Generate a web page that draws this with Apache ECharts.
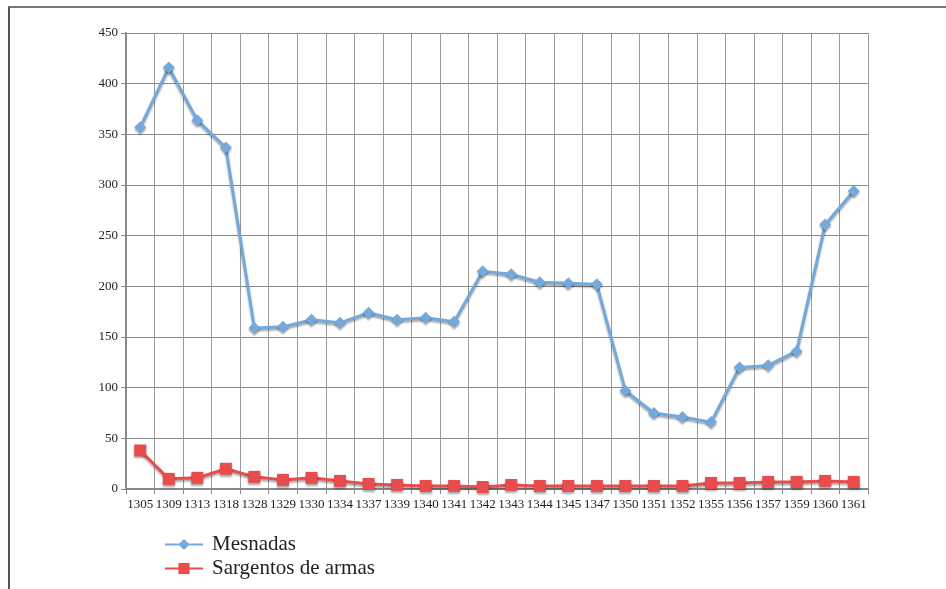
<!DOCTYPE html>
<html>
<head>
<meta charset="utf-8">
<script src="https://cdn.jsdelivr.net/npm/echarts@6/dist/echarts.min.js"></script>
<style>
  html, body { margin: 0; padding: 0; background: #fff; }
  #frame { position: absolute; left: 8px; top: 6px; width: 938px; height: 583px;
           border-left: 2px solid #555; border-top: 2px solid #777; box-sizing: border-box; }
  #chart { position: absolute; left: 0; top: 0; width: 946px; height: 589px; }
</style>
</head>
<body>
<div id="frame"></div>
<div id="chart"></div>
<script>
const years = ['1305', '1309', '1313', '1318', '1328', '1329', '1330', '1334', '1337', '1339',
  '1340', '1341', '1342', '1343', '1344', '1345', '1347', '1350', '1351', '1352',
  '1355', '1356', '1357', '1359', '1360', '1361'];
const mesnadas = [357, 416, 364, 337, 159, 160, 167, 164, 174, 167,
  169, 165, 215, 212, 204, 203, 202, 97, 75, 71,
  66, 120, 122, 136, 261, 294];
const sargentos = [38, 10, 11, 20, 12, 9, 11, 8, 5, 4,
  3, 3, 2, 4, 3, 3, 3, 3, 3, 3,
  6, 6, 7, 7, 8, 7];
const yTicks = [0, 50, 100, 150, 200, 250, 300, 350, 400, 450];

const serif = 'Liberation Serif';
const chart = echarts.init(document.getElementById('chart'));

function lineSeries(name, data, color, symbol, size) {
  return {
    name: name,
    type: 'line',
    data: data,
    symbol: symbol,
    symbolSize: size,
    showSymbol: true,
    itemStyle: { color: color, shadowColor: 'rgba(0,0,0,0.35)', shadowOffsetY: 2, shadowBlur: 2 },
    lineStyle: { color: color, width: 3, shadowColor: 'rgba(0,0,0,0.35)', shadowOffsetY: 2, shadowBlur: 2 },
    emphasis: { disabled: true },
    animation: false
  };
}

// one legend per row, so both rows sit exactly where the reference puts them
function legendRow(name, top) {
  return {
    left: 164,
    top: top,
    padding: 0,
    itemWidth: 38,
    itemHeight: 14,
    textStyle: { fontFamily: serif, fontSize: 21, color: '#222', padding: [0, 0, 0, 4] },
    data: [name]
  };
}

chart.setOption({
  animation: false,
  grid: { left: 126, right: 78, top: 33, bottom: 100 },
  legend: [legendRow('Mesnadas', 534), legendRow('Sargentos de armas', 558)],
  xAxis: {
    type: 'category',
    data: years,
    boundaryGap: true,
    axisLine: { lineStyle: { color: '#888', width: 2 } },
    axisTick: { show: true, length: 5, lineStyle: { color: '#888' } },
    axisLabel: { fontFamily: serif, fontSize: 13, color: '#222', margin: 9, interval: 0 },
    splitLine: { show: true, lineStyle: { color: '#9a9a9a', width: 1 } }
  },
  yAxis: {
    type: 'value',
    min: 0,
    max: 450,
    interval: 50,
    axisLine: { show: true, lineStyle: { color: '#888', width: 2 } },
    axisTick: { show: true, length: 5, lineStyle: { color: '#888' } },
    axisLabel: {
      fontFamily: serif, fontSize: 13, color: '#222', margin: 8,
      formatter: v => (yTicks.indexOf(v) >= 0 ? String(v) : '')
    },
    splitLine: { show: true, lineStyle: { color: '#8a8a8a', width: 1 } }
  },
  series: [
    lineSeries('Mesnadas', mesnadas, '#74a9dc', 'diamond', 12),
    lineSeries('Sargentos de armas', sargentos, '#e84c4c', 'rect', 12)
  ]
});
</script>
</body>
</html>
